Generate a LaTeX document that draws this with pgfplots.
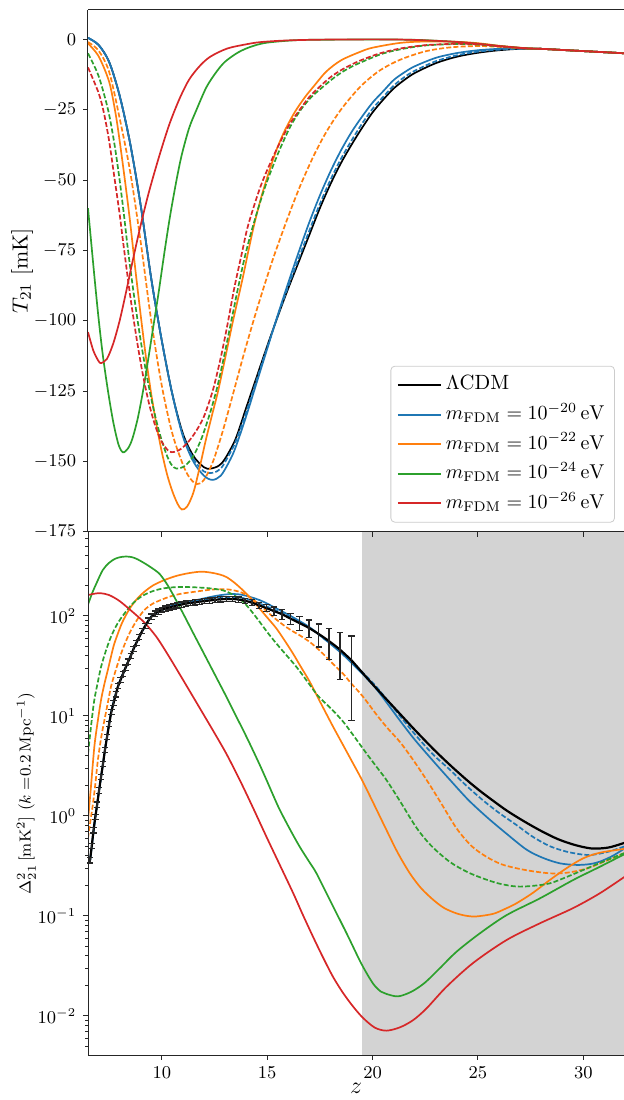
\documentclass[border=0pt]{standalone}
\usepackage{pgfplots}
\pgfplotsset{compat=1.18}
\usepackage{pgfplotstable}

\definecolor{tabblue}{HTML}{1F77B4}
\definecolor{taborange}{HTML}{FF7F0E}
\definecolor{tabgreen}{HTML}{2CA02C}
\definecolor{tabred}{HTML}{D62728}
\definecolor{shade}{HTML}{D3D3D3}

% short horizontal cap for the error bars
\pgfdeclareplotmark{cap}{%
  \pgfpathmoveto{\pgfqpoint{-\pgfplotmarksize}{0pt}}%
  \pgfpathlineto{\pgfqpoint{\pgfplotmarksize}{0pt}}%
  \pgfusepathqstroke}

% LCDM power spectrum at the measured redshifts, with 1-sigma errors
\pgfplotstableread{
z      D      err
6.596  0.36   0.022
6.678  0.5    0.03
6.762  0.72   0.045
6.848  0.98   0.06
6.935  1.3    0.08
7.025  1.8    0.11
7.117  2.45   0.15
7.210  3.3    0.2
7.306  4.6    0.28
7.405  6.2    0.37
7.505  8.3    0.5
7.608  11     0.66
7.714  13.5   0.81
7.822  16.5   1.0
7.933  20     1.2
8.047  23     1.4
8.164  26.5   1.6
8.284  30.5   1.8
8.407  35     2.1
8.533  40     2.4
8.663  47     2.8
8.796  54     3.2
8.933  62     3.7
9.074  71     4.3
9.219  80     4.8
9.368  90     5.4
9.521  99     5.9
9.680  106    6.4
9.843  111    6.7
10.011 115    6.9
10.184 119    7.1
10.363 122    7.3
10.548 125    7.5
10.739 128    7.7
10.936 130    7.8
11.140 133    8.0
11.351 135    8.1
11.570 137    8.2
11.796 139    8.3
12.031 141    8.5
12.275 143    8.6
12.528 145    8.7
12.790 147    8.8
13.063 148    8.9
13.347 148    8.9
13.643 146    8.8
13.952 142    8.6
14.273 136    9.0
14.609 128    9.5
14.960 120    10
15.326 112    11
15.711 104    12
16.113 94     12.5
16.536 85     13.5
16.980 76     15
17.447 66     17
17.939 56     19.5
18.458 46     23
19.006 36     27
}\lcdmbars

\pgfplotsset{
  panel/.style={
    scale only axis, width=268pt,
    xmin=6.5, xmax=31.93,
    xtick={10,15,20,25,30},
    axis x line*=box, axis y line*=left,
    xtick pos=left, ytick pos=left,
    tick align=outside,
    major tick length=2.4pt, minor tick length=1.3pt,
    axis line style={black!85, line width=0.5pt},
    tick style={black!85, line width=0.5pt},
    tick label style={font=\fontsize{8.8}{10}\selectfont},
    every axis plot/.append style={line width=0.85pt, smooth, tension=0.5},
  },
  dsh/.style={dash pattern=on 2.5pt off 1.1pt},
  capmark/.style={black!85, only marks, mark=cap, mark size=1.6pt, mark options={line width=0.6pt}},
}

\begin{document}
\begin{tikzpicture}
% ---------------- bottom panel: power spectrum ----------------
\begin{axis}[panel, name=bot, height=261.5pt, axis on top,
  ymode=log, ymin=0.00407, ymax=692,
  ytick={0.01,0.1,1,10,100},
  minor ytick={0.005,0.006,0.007,0.008,0.009,0.02,0.03,0.04,0.05,0.06,0.07,0.08,0.09,0.2,0.3,0.4,0.5,0.6,0.7,0.8,0.9,2,3,4,5,6,7,8,9,20,30,40,50,60,70,80,90,200,300,400,500,600},
  xlabel={$z$},
  xlabel style={font=\fontsize{11.5}{13}\selectfont, at={(axis description cs:0.5,-0.063)}, anchor=center},
  ylabel={$\Delta^2_{21}\,[\mathrm{mK}^2]$ ($k =$$0.2\,\mathrm{Mpc}^{-1}$)},
  ylabel style={font=\fontsize{8.2}{10}\selectfont, at={(axis description cs:-0.115,0.5)}, anchor=center},
]
\addplot[draw=none, fill=shade, sharp plot, forget plot] coordinates {(19.5,0.001) (19.5,1000) (40,1000) (40,0.001)} -- cycle;

\addplot[tabblue] coordinates {(6.6,0.36) (6.85,0.98) (7.12,2.45) (7.4,6.2) (7.6,11) (7.93,20) (8.3,31) (8.7,49) (9.1,72) (9.5,99) (9.85,112) (10.2,121) (10.5,127) (11,135) (11.5,142) (12,150) (12.5,158) (13,164) (13.4,166) (13.8,163) (14.2,155) (14.65,144) (15,133) (15.44,119) (16.23,97) (17.02,77) (17.8,57) (18.6,41) (19.4,28) (20.19,18.5) (21.3,9) (22,5.8) (22.9,3.5) (23.67,2.3) (24.54,1.45) (25.41,0.98) (26.3,0.68) (27.31,0.46) (28.1,0.38) (28.89,0.336) (29.68,0.324) (30.3,0.33) (30.79,0.35) (31.4,0.4) (32,0.48)};
\addplot[tabblue, dsh] coordinates {(6.6,0.36) (6.85,0.98) (7.12,2.45) (7.4,6.2) (7.6,11) (7.93,20) (8.3,31) (8.7,49) (9.1,72) (9.5,99) (10,114) (10.5,126) (11,134) (11.5,139) (12,145) (12.5,150) (13,154) (13.4,155) (13.8,152) (14.2,145) (14.65,133) (15.44,113) (16.23,95) (17.02,76) (17.8,57) (18.6,42) (19.4,29) (20.19,19.5) (21.3,10) (22,6.6) (22.88,4.1) (23.67,2.9) (24.46,2.0) (25.3,1.4) (26.04,1.06) (26.8,0.82) (27.6,0.62) (28.4,0.5) (29.2,0.44) (30,0.41) (30.47,0.41) (31.2,0.44) (32,0.5)};

\addplot[taborange] coordinates {(6.5,0.9) (6.64,1.96) (6.8,4.9) (6.95,8.5) (7.12,14.5) (7.28,21) (7.44,28.8) (7.6,40) (7.75,53) (8.07,81) (8.3,102) (8.54,124) (8.85,150) (9.18,175) (9.6,203) (10.13,229) (10.7,252) (11.23,267) (11.7,276) (12,277) (12.4,270) (12.75,260) (13.07,245) (13.45,215) (13.86,180) (14.25,148) (14.65,118) (15.05,94) (15.44,75) (15.85,56) (16.23,42) (16.6,31) (17.02,22) (17.5,14) (18.13,7.8) (18.6,5.13) (19,3.59) (19.5,2.29) (20,1.40) (20.66,0.724) (21.2,0.427) (21.77,0.267) (22.3,0.19) (22.88,0.145) (23.4,0.12) (23.99,0.106) (24.5,0.1) (24.94,0.099) (25.72,0.105) (26.3,0.118) (26.83,0.134) (27.6,0.17) (28.41,0.229) (29.2,0.3) (29.99,0.377) (30.8,0.43) (32,0.47)};
\addplot[taborange, dsh] coordinates {(6.5,0.6) (6.6,0.85) (6.73,1.3) (6.85,2.1) (6.96,3.5) (7.12,6) (7.28,9.1) (7.44,13.5) (7.59,19.6) (7.8,28) (8.07,42) (8.3,56) (8.54,72) (8.85,93) (9.18,115) (9.55,132) (9.97,145) (10.45,158) (10.92,167) (11.49,174) (12.18,182) (12.6,185) (13.07,185) (13.45,180) (13.86,169) (14.25,150) (14.65,129) (15.05,108) (15.44,92) (15.85,79) (16.23,70) (16.55,64) (17.02,55) (17.4,47) (17.8,39) (18.2,32) (18.6,26.5) (19,21) (19.4,17) (19.72,14) (20.19,10.3) (20.7,7.6) (21.3,5.5) (21.9,3.7) (22.56,2.3) (23.2,1.4) (23.99,0.75) (24.7,0.5) (25.41,0.39) (26.1,0.33) (26.83,0.3) (27.6,0.28) (28.41,0.267) (29,0.268) (29.52,0.277) (30.2,0.3) (30.79,0.336) (31.4,0.38) (32,0.43)};

\addplot[tabgreen] coordinates {(6.5,130) (6.7,170) (6.9,212) (7.2,288) (7.5,340) (7.8,375) (8.1,390) (8.35,393) (8.6,387) (8.86,368) (9.2,335) (9.5,305) (9.9,263) (10.3,200) (10.7,141) (11.1,97.7) (11.49,67.6) (11.9,46.2) (12.28,32.4) (12.7,21.9) (13.07,15.5) (13.5,10.2) (13.86,7.24) (14.25,4.9) (14.65,3.24) (14.97,2.29) (15.3,1.585) (15.6,1.15) (16.1,0.724) (16.55,0.49) (17,0.347) (17.34,0.267) (17.97,0.145) (18.77,0.067) (19.48,0.033) (20.03,0.021) (20.4,0.0175) (20.66,0.0166) (21.21,0.0157) (21.85,0.0175) (22.48,0.0215) (23.19,0.03) (23.99,0.044) (25.09,0.067) (26.36,0.102) (27.94,0.15) (29.52,0.229) (30.79,0.311) (32,0.42)};
\addplot[tabgreen, dsh] coordinates {(6.5,4.2) (6.6,6.5) (6.7,10) (6.8,14.5) (6.95,21) (7.12,31) (7.35,45) (7.59,62) (7.9,84) (8.23,106) (8.6,132) (9.02,156) (9.5,175) (9.97,187) (10.45,193) (10.92,195) (11.49,194) (12.18,190) (12.7,184) (13.07,176) (13.45,160) (13.86,139) (14.25,112) (14.65,87) (15.05,67) (15.44,53) (15.85,42) (16.23,34) (16.55,28) (17.02,20.5) (17.4,16) (17.8,13.2) (18.13,11.3) (18.6,8.8) (19,6.8) (19.4,5.2) (19.72,4.2) (20.19,3.1) (20.66,2.29) (21.3,1.41) (22.09,0.76) (22.8,0.5) (23.67,0.347) (24.5,0.275) (25.25,0.237) (26,0.211) (26.83,0.197) (27.6,0.2) (28.41,0.212) (29.2,0.245) (29.99,0.288) (30.8,0.34) (32,0.43)};

\addplot[tabred] coordinates {(6.5,162) (6.8,167) (7.1,169) (7.5,162) (8,141) (8.7,106) (9.2,85) (9.75,61.7) (10.3,40.7) (10.9,25.1) (11.49,15.5) (12,10.2) (12.5,6.76) (13.07,4.17) (13.7,2.29) (14.3,1.245) (14.97,0.617) (15.6,0.324) (16.23,0.17) (16.7,0.102) (17.18,0.0617) (17.65,0.0385) (18.13,0.0245) (18.6,0.017) (19.08,0.0124) (19.55,0.00955) (20.11,0.00764) (20.66,0.00713) (21.3,0.0077) (21.93,0.0091) (22.56,0.0119) (23.51,0.0196) (24.78,0.034) (26.36,0.0575) (27.94,0.0845) (29.52,0.12) (30.79,0.169) (32,0.25)};

% LCDM on top, with its error bars and caps
\addplot[black, line width=1.1pt,
  error bars/.cd, y dir=both, y explicit, error mark=none,
  error bar style={black!85, line width=0.7pt}]
  table[x=z, y=D, y error=err] {\lcdmbars};
\addplot[capmark] table[x=z, y expr=\thisrow{D}+\thisrow{err}] {\lcdmbars};
\addplot[capmark] table[x=z, y expr=\thisrow{D}-\thisrow{err}] {\lcdmbars};
\addplot[black, line width=1.1pt] coordinates {(19.006,36) (19.7,24.5) (20.19,18.8) (21.3,10.5) (22,7.28) (22.88,4.68) (23.67,3.24) (24.46,2.3) (25.1,1.78) (25.7,1.43) (26.4,1.12) (27.2,0.881) (28,0.708) (28.8,0.586) (29.6,0.513) (30.4,0.473) (31.2,0.484) (32,0.543)};
\end{axis}

% ---------------- top panel: global signal ----------------
\begin{axis}[panel, name=top, at={(bot.north west)}, anchor=south west, height=261pt,
  ymin=-175, ymax=10.4, ytick={-175,-150,...,0}, xticklabels={},
  ylabel={$T_{21}\ [\mathrm{mK}]$},
  ylabel style={font=\fontsize{11}{13}\selectfont, at={(axis description cs:-0.123,0.5)}, anchor=center},
  legend cell align=left,
  legend image code/.code={\draw[#1, sharp plot] (0pt,0pt) -- (21.5pt,0pt);},
  legend style={at={(axis description cs:0.983,0.018)}, anchor=south east,
    draw=black!20, rounded corners=2pt, fill=white, fill opacity=0.8, text opacity=1,
    font=\fontsize{10.3}{12}\selectfont, inner xsep=3pt, inner ysep=2pt,
    nodes={inner sep=1.9pt, text height=8pt, text depth=3pt}},
]
\addlegendimage{black, line width=1.05pt}
\addlegendentry{$\Lambda$CDM}
\addlegendimage{tabblue, line width=1.05pt}
\addlegendentry{$m_{\mathrm{FDM}}=10^{-20}\,\mathrm{eV}$}
\addlegendimage{taborange, line width=1.05pt}
\addlegendentry{$m_{\mathrm{FDM}}=10^{-22}\,\mathrm{eV}$}
\addlegendimage{tabgreen, line width=1.05pt}
\addlegendentry{$m_{\mathrm{FDM}}=10^{-24}\,\mathrm{eV}$}
\addlegendimage{tabred, line width=1.05pt}
\addlegendentry{$m_{\mathrm{FDM}}=10^{-26}\,\mathrm{eV}$}

\addplot[black, forget plot] coordinates {(6.5,0.5) (7,-2) (7.5,-8) (8,-20) (8.5,-37) (9,-59) (9.5,-85) (10,-107) (10.5,-126) (11,-140) (11.5,-148) (12,-152) (12.3,-152.5) (12.7,-151.5) (13,-149) (13.5,-142) (14,-131) (14.5,-120) (15,-109) (15.5,-98.5) (16,-88.5) (16.5,-79) (17,-69.5) (17.5,-60) (18,-51.5) (18.5,-44) (19,-37.5) (19.5,-31.5) (20,-26) (20.5,-21.5) (21,-17.5) (21.5,-14.5) (22,-12) (23,-8.5) (24,-6.2) (25,-4.8) (26,-3.9) (27,-3.4) (28,-3.4) (29,-3.8) (30,-4.2) (31,-4.6) (32,-5.0)};

\addplot[tabblue, forget plot] coordinates {(6.5,0.5) (7,-2) (7.5,-8) (8,-20) (8.5,-37) (9,-59) (9.5,-85) (10,-107) (10.5,-126) (11,-141) (11.5,-150) (12,-155) (12.4,-156.5) (12.8,-155) (13.2,-150) (13.5,-145) (14,-134) (14.5,-122) (15,-110) (15.5,-98) (16,-86.5) (16.5,-75.5) (17,-65) (17.5,-55.5) (18,-47) (18.5,-39.5) (19,-33) (19.5,-27.5) (20,-22.5) (20.5,-18.5) (21,-14.5) (21.5,-11.8) (22,-9.6) (23,-6.6) (24,-4.9) (25,-3.9) (26,-3.4) (27,-3.3) (28,-3.4) (29,-3.8) (30,-4.2) (31,-4.6) (32,-5.0)};
\addplot[tabblue, dsh, forget plot] coordinates {(6.5,0.5) (7,-2) (7.5,-8) (8,-20) (8.5,-37) (9,-59) (9.5,-85) (10,-107) (10.5,-126) (11,-140.5) (11.5,-149) (12,-153.5) (12.4,-154) (12.8,-152.5) (13.2,-147.5) (13.5,-143) (14,-132.5) (14.5,-121) (15,-109.5) (15.5,-98.3) (16,-87.8) (16.5,-77.8) (17,-68) (17.5,-58.5) (18,-50) (18.5,-42.5) (19,-36) (19.5,-30) (20,-24.7) (20.5,-20.5) (21,-16.5) (21.5,-13.5) (22,-11.2) (23,-7.8) (24,-5.7) (25,-4.4) (26,-3.7) (27,-3.35) (28,-3.4) (29,-3.8) (30,-4.2) (31,-4.6) (32,-5.0)};

\addplot[taborange, forget plot] coordinates {(6.5,-1.5) (7,-6) (7.5,-15) (7.8,-26) (8,-36) (8.25,-50) (8.5,-65) (8.75,-82) (9,-98) (9.25,-113) (9.5,-126) (9.75,-137) (10,-146.5) (10.25,-154.5) (10.5,-160.5) (10.75,-165) (10.95,-167) (11.2,-166) (11.5,-161) (11.8,-152) (12.1,-142) (12.4,-133) (12.67,-125) (13,-113.5) (13.38,-100) (13.82,-85.5) (14.1,-75.5) (14.41,-65) (14.8,-54) (15.36,-41) (15.8,-33) (16.3,-26) (16.8,-20.5) (17.2,-16.8) (17.8,-11.5) (18.5,-7.5) (19.4,-4.5) (20,-3) (21.3,-1.3) (22.5,-0.8) (24,-0.9) (25,-1.4) (26,-2.3) (27,-3.0) (27.5,-3.3) (28,-3.4) (29,-3.8) (30,-4.2) (31,-4.6) (32,-5.0)};
\addplot[taborange, dsh, forget plot] coordinates {(6.5,-1) (7,-4) (7.5,-11.5) (8,-28) (8.5,-47) (9,-72) (9.5,-100) (10,-123) (10.5,-140) (11,-151) (11.3,-155.5) (11.65,-158) (12,-156.5) (12.43,-150) (12.9,-139) (13.38,-126) (13.85,-113) (14.35,-100) (14.8,-89) (15.3,-77.5) (15.8,-67) (16.2,-59) (16.6,-51.5) (17.2,-41.5) (17.8,-33) (18.5,-25) (19.4,-17) (20.3,-11.3) (21.3,-7.3) (22.5,-4.3) (23.67,-2.9) (25,-2.4) (26,-2.7) (27,-3.2) (27.5,-3.3) (28,-3.4) (29,-3.8) (30,-4.2) (31,-4.6) (32,-5.0)};

\addplot[tabgreen, forget plot] coordinates {(6.5,-60) (6.65,-72) (6.82,-85.5) (7,-99) (7.2,-112) (7.45,-125) (7.7,-136) (7.95,-144) (8.16,-146.7) (8.4,-145.3) (8.6,-142) (8.85,-135) (9.11,-125) (9.35,-114) (9.6,-102) (9.85,-90) (10.14,-75) (10.4,-62.5) (10.7,-50) (10.95,-41) (11.3,-31.5) (11.65,-25) (12.12,-17) (12.6,-11.5) (13,-8) (13.55,-5) (14,-3.3) (14.5,-2) (15,-1.2) (16,-0.5) (17,-0.2) (20,-0.1) (22,-0.2) (23.67,-0.8) (25,-1.6) (26,-2.4) (27,-3.05) (27.5,-3.3) (28,-3.4) (29,-3.8) (30,-4.2) (31,-4.6) (32,-5.0)};
\addplot[tabgreen, dsh, forget plot] coordinates {(6.5,-5) (7,-13) (7.45,-25) (7.75,-37) (8,-50) (8.2,-62) (8.4,-75) (8.7,-92) (9,-107) (9.3,-120) (9.6,-131) (9.9,-140) (10.2,-147) (10.45,-151) (10.7,-152.5) (11.1,-151.5) (11.5,-148) (11.9,-141.5) (12.3,-132.5) (12.65,-123) (13,-111) (13.3,-100) (13.6,-89) (13.95,-77) (14.34,-66) (14.9,-52.5) (15.52,-40.5) (16.1,-31) (16.6,-25) (17.1,-20.5) (17.66,-16.8) (18.2,-13.5) (18.7,-11) (19.3,-8.7) (20.4,-5.3) (21.3,-3.6) (22.5,-2.2) (24,-1.7) (25,-1.9) (26,-2.5) (27,-3.1) (27.5,-3.3) (28,-3.4) (29,-3.8) (30,-4.2) (31,-4.6) (32,-5.0)};

\addplot[tabred, forget plot] coordinates {(6.5,-104) (6.75,-110.5) (7,-114.3) (7.13,-115) (7.4,-113.5) (7.7,-108) (8,-100) (8.3,-90) (8.64,-78) (9,-66) (9.4,-54) (9.9,-41) (10.37,-30) (10.85,-21) (11.3,-14.3) (11.8,-9.5) (12.3,-6.2) (13.1,-3.3) (14,-1.8) (14.7,-1.0) (16,-0.4) (18,-0.1) (21.3,-0.1) (23.67,-0.8) (25,-1.6) (26,-2.4) (27,-3.05) (27.5,-3.3) (28,-3.4) (29,-3.8) (30,-4.2) (31,-4.6) (32,-5.0)};
\addplot[tabred, dsh, forget plot] coordinates {(6.5,-10) (7,-19) (7.25,-26) (7.5,-36) (7.77,-50) (8,-62) (8.2,-74) (8.5,-91) (8.8,-106) (9.1,-119) (9.4,-129.5) (9.7,-137.5) (10,-143) (10.38,-146.5) (10.8,-146) (11.2,-143.5) (11.6,-139.5) (12,-134) (12.43,-124.5) (12.8,-113) (13.1,-102) (13.45,-88) (13.8,-76) (14.1,-66) (14.7,-52) (15.36,-40.5) (16,-31) (16.5,-25.5) (17,-20.5) (17.5,-16.8) (18,-13.5) (18.5,-11) (19,-9) (19.5,-7.3) (20.35,-5) (21.3,-3.3) (22.5,-2.1) (24,-1.6) (25,-1.8) (26,-2.5) (27,-3.1) (27.5,-3.3) (28,-3.4) (29,-3.8) (30,-4.2) (31,-4.6) (32,-5.0)};
\end{axis}

\pgfresetboundingbox
\path[use as bounding box] ([xshift=-44pt,yshift=5pt]top.north west) rectangle ([yshift=-22.5pt]bot.south east);
\end{tikzpicture}
\end{document}
